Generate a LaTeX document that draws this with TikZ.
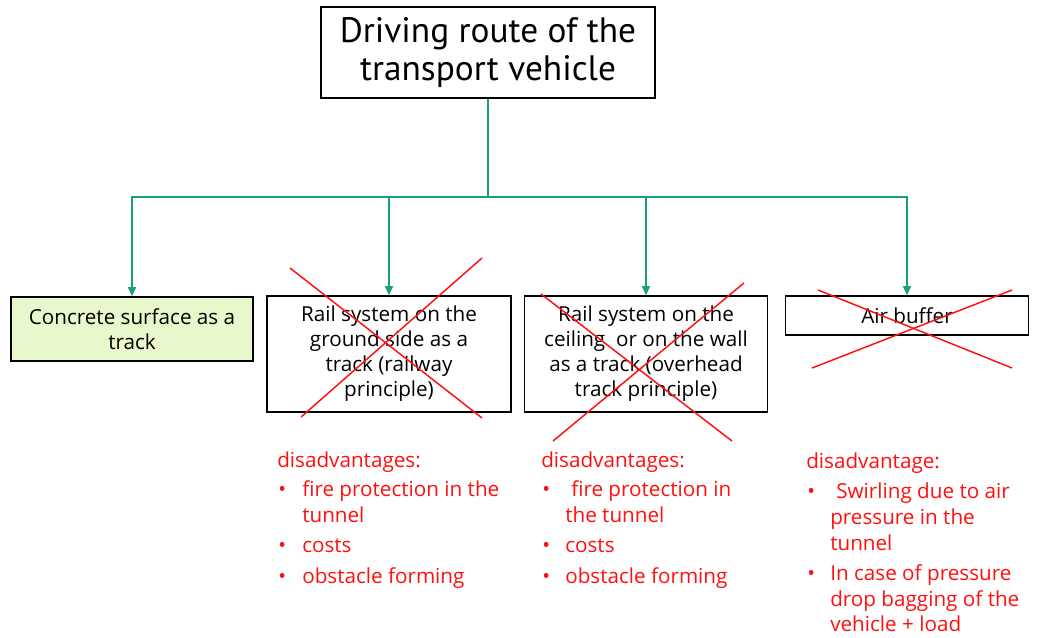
\documentclass[tikz,border=0pt]{standalone}
\usepackage{fontspec}
\setmainfont{Open Sans}
\newfontfamily\topfont{PT Sans}
\usetikzlibrary{arrows.meta}
\definecolor{conn}{HTML}{1A9E7E}
\definecolor{concrete}{HTML}{E8F7CC}
\definecolor{cross}{HTML}{FF1010}
\tikzset{
  box/.style={draw=black, line width=0.9pt, align=center, inner sep=0pt,
    font=\fontsize{15.5}{18.75}\selectfont},
  link/.style={draw=conn, line width=1.3pt},
  arr/.style={link, -{Triangle[length=7pt,width=6pt]}},
  xline/.style={draw=cross, line width=1.1pt},
  dis/.style={text=cross, anchor=base west, inner sep=0pt,
    font=\fontsize{15.5}{18.75}\selectfont},
}
\begin{document}
\begin{tikzpicture}[x=0.75pt,y=-0.75pt]
\useasboundingbox[fill=white] (0,0) rectangle (1037,637);

\node[box, minimum width=250.5pt, minimum height=68.25pt,
  font=\topfont\fontsize{26.5}{28.5}\selectfont] (top) at (488,52.5)
  {\raisebox{-1.5pt}{\shortstack{Driving route of the\\[1pt]transport vehicle}}};

\node[box, fill=concrete, minimum width=181.5pt, minimum height=48pt] (b1) at (132,329)
  {Concrete surface as a\\track};
\node[box, minimum width=183pt, minimum height=87pt] (b2) at (389,354)
  {Rail system on the\\ground side as a\\track (railway\\principle)};
\node[box, minimum width=182.25pt, minimum height=87pt] (b3) at (646,354)
  {Rail system on the\\ceiling\ \ or on the wall\\as a track (overhead\\track principle)};
\node[box, minimum width=182.25pt, minimum height=29.25pt] (b4) at (907,315.5)
  {Air buffer};

\coordinate (bus) at (488,197);
\draw[link] (top.south) -- (bus);
\draw[arr] (bus) -| (b1.north);
\draw[arr] (bus) -| (b2.north);
\draw[arr] (bus) -| (b3.north);
\draw[arr] (bus) -| (b4.north);

% crosses
\draw[xline] (290,268) -- (482,418);
\draw[xline] (482,258) -- (301,417);
\draw[xline] (541,294) -- (732,441);
\draw[xline] (744,283) -- (553,441);
\draw[xline] (818,290) -- (1012,368);
\draw[xline] (1012,290) -- (812,368);

% disadvantages column 1
\node[dis] (h1) at (277,467) {disadvantages:};
\node[dis] (p1a) at (278,496) {•};
\node[dis] (t1a) at (302,496) {fire protection in the};
\node[dis] (t1b) at (302,522) {tunnel};
\node[dis] (p1c) at (278,552) {•};
\node[dis] (t1c) at (302,552) {costs};
\node[dis] (p1d) at (278,583) {•};
\node[dis] (t1d) at (302,583) {obstacle forming};

% column 2
\node[dis] (h2) at (541,467) {disadvantages:};
\node[dis] (p2a) at (542,496) {•};
\node[dis] (t2a) at (571,496) {fire protection in};
\node[dis] (t2b) at (565,522) {the tunnel};
\node[dis] (p2c) at (542,552) {•};
\node[dis] (t2c) at (565,552) {costs};
\node[dis] (p2d) at (542,583) {•};
\node[dis] (t2d) at (565,583) {obstacle forming};

% column 3
\node[dis] (h3) at (806,468) {disadvantage:};
\node[dis] (p3a) at (807,498) {•};
\node[dis] (t3a) at (836,498) {Swirling due to air};
\node[dis] (t3b) at (830,524) {pressure in the};
\node[dis] (t3c) at (830,550) {tunnel};
\node[dis] (p3d) at (807,580) {•};
\node[dis] (t3d) at (830,580) {In case of pressure};
\node[dis] (t3e) at (830,606) {drop bagging of the};
\node[dis] (t3f) at (830,631) {vehicle + load};
\end{tikzpicture}
\end{document}
